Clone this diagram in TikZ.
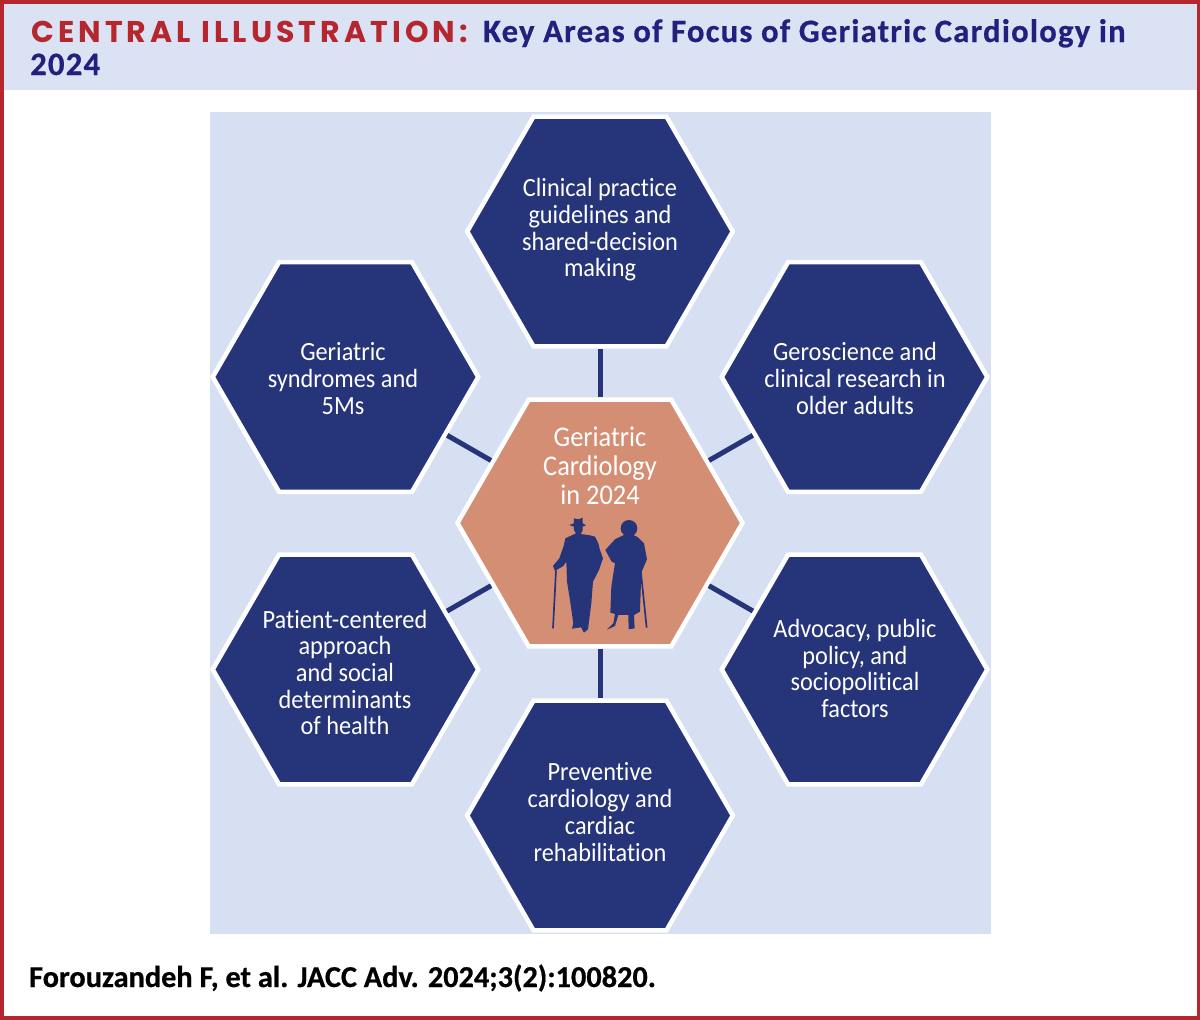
\documentclass[tikz,border=0pt]{standalone}
\usepackage{fontspec}
\setmainfont[Ligatures=NoCommon]{Carlito}
\newfontfamily\headfont[LetterSpace=13.6]{Poppins Bold}
\newfontfamily\bodyfont[FakeStretch=0.925,Ligatures=NoCommon]{Carlito}
\newfontfamily\titlefont[LetterSpace=3.9,Ligatures=NoCommon,FakeBold=0.6]{Carlito Bold}
\newfontfamily\citefont[Ligatures=NoCommon,FakeBold=0.6]{Carlito Bold}
\usetikzlibrary{shapes.geometric}
\definecolor{panelc}{HTML}{D6E0F2}
\definecolor{headc}{HTML}{DBE2F3}
\definecolor{redc}{HTML}{B5262E}
\definecolor{navyc}{HTML}{26347A}
\definecolor{titlec}{HTML}{231F7E}
\definecolor{orangec}{HTML}{D38E74}
\tikzset{
  hexbase/.style={regular polygon,regular polygon sides=6,draw=white,line width=4.5pt,inner sep=0pt},
  hexnavy/.style={hexbase,fill=navyc,minimum size=265.5pt},
  hexcore/.style={hexbase,fill=orangec,minimum size=285pt},
  hextext/.style={text=white,align=center,font=\bodyfont\fontsize{26.3}{26.7}\selectfont,inner sep=0pt},
  coretext/.style={text=white,align=center,font=\bodyfont\fontsize{28.5}{29}\selectfont,inner sep=0pt},
  link/.style={draw=navyc,line width=5pt},
  title/.style={anchor=base west,inner sep=0pt,font=\titlefont\fontsize{32.6}{33}\selectfont,text=titlec},
}
\begin{document}
\begin{tikzpicture}[x=1pt,y=-1pt]
\useasboundingbox (0,0) rectangle (1200,1020);
\fill[white] (0,0) rectangle (1200,1020);
\fill[headc] (0,0) rectangle (1200,89.5);
\fill[panelc] (210,112) rectangle (991,934);
\draw[redc,line width=4pt] (1.5,1.5) rectangle (1198.5,1018);
\node[title,text=redc,font=\fontsize{30}{33}\selectfont\headfont] (head) at (31,42) {CENTRAL ILLUSTRATION:};
\node[title] (titlea) at (483,42) {Key Areas of Focus of Geriatric Cardiology in};
\node[title] (titleb) at (30,75) {2024};
\node[title,text=black,font=\citefont\fontsize{30.3}{30}\selectfont] (cite) at (29,987) {Forouzandeh F, et al. JACC Adv. 2024;3(2):100820.};
\node[hexcore] (core) at (600,523) {};
\node[hexnavy] (n1) at (600,231.5) {};
\node[hexnavy] (n2) at (854.5,377) {};
\node[hexnavy] (n3) at (854.5,669.5) {};
\node[hexnavy] (n4) at (600,815.5) {};
\node[hexnavy] (n5) at (345.5,669.5) {};
\node[hexnavy] (n6) at (345.5,377) {};
\foreach \k in {1,...,6} \draw[link] (core) -- (n\k);
\node[coretext] (tcore) at (600,466) {Geriatric\\Cardiology\\in 2024};
\node[hextext] (t1) at (600,230) {Clinical practice\\guidelines and\\shared-decision\\making};
\node[hextext] (t2) at (855,378.5) {Geroscience and\\clinical research in\\older adults};
\node[hextext] (t3) at (855,668.5) {Advocacy, public\\policy, and\\sociopolitical\\factors};
\node[hextext] (t4) at (600,812) {Preventive\\cardiology and\\cardiac\\rehabilitation};
\node[hextext] (t5) at (345,672.5) {Patient-centered\\approach\\and social\\determinants\\of health};
\node[hextext] (t6) at (343,378.5) {Geriatric\\syndromes and\\5Ms};
\begin{scope}[shift={(500,480)},x=0.3333pt,y=-0.3333pt]
\fill[navyc] (208,135) -- (222,130) -- (222,115) -- (235,118) -- (248,113) -- (248,130) -- (258,136) -- (248,140) -- (248,152) -- (242,162) -- (270,166) -- (285,170) -- (295,190) -- (300,210) -- (309,235) -- (297,270) -- (279,305) -- (274,370) -- (264,448) -- (252,458) -- (243,442) -- (216,446) -- (220,430) -- (210,360) -- (201,305) -- (199,245) -- (190,258) -- (165,273) -- (159,258) -- (178,235) -- (192,195) -- (196,175) -- (228,160) -- (222,150) -- (222,140) -- cycle;
\fill[navyc] (387,145) ellipse [x radius=25,y radius=25];
\fill[navyc] (372,165) -- (400,165) -- (414,172) -- (432,190) -- (441,238) -- (424,278) -- (420,395) -- (402,405) -- (404,445) -- (386,448) -- (385,405) -- (355,405) -- (345,438) -- (321,449) -- (340,430) -- (345,402) -- (331,398) -- (334,320) -- (345,250) -- (335,245) -- (316,210) -- (345,178) -- cycle;
\draw[navyc,line width=1.7pt] (168,272) -- (159,445);
\draw[navyc,line width=1.7pt] (422,270) -- (440,443);
\end{scope}
\end{tikzpicture}
\end{document}
